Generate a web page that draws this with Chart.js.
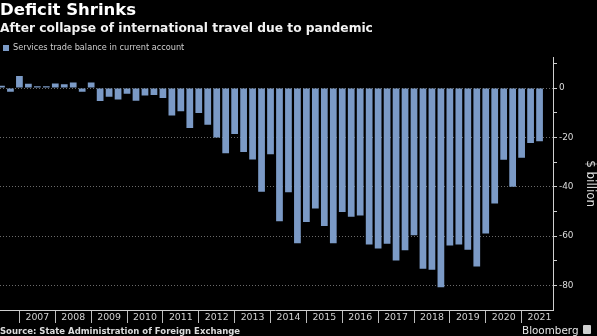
<!DOCTYPE html>
<html>
<head>
<meta charset="utf-8">
<script src="https://cdn.jsdelivr.net/npm/chart.js@4"></script>
<style>
  html, body { margin: 0; padding: 0; background: #000; }
  body { width: 597px; height: 336px; position: relative; overflow: hidden; font-family: "DejaVu Sans", sans-serif; }
  #wrap { position: absolute; left: -3px; top: 0; width: 600px; height: 336px; }
  .t { position: absolute; white-space: nowrap; }
  #title { left: 0; top: 2px; font-size: 16.5px; line-height: 16.5px; font-weight: bold; color: #ffffff; }
  #subtitle { left: 0; top: 22px; font-size: 12.25px; line-height: 12.25px; font-weight: bold; color: #f2f2f2; }
  #source { left: 0; top: 327px; font-size: 8.5px; line-height: 8.5px; font-weight: bold; color: #dcdcdc; }
  #brand { left: 522px; top: 325px; font-size: 10.4px; line-height: 10.4px; color: #e6e6e6; }
  #logo { position: absolute; left: 583px; top: 325px; width: 8px; height: 9px; background: #cfcfcf; border-radius: 1px; }
</style>
</head>
<body>
<div id="wrap"><canvas id="c"></canvas></div>
<div class="t" id="title">Deficit Shrinks</div>
<div class="t" id="subtitle">After collapse of international travel due to pandemic</div>
<div class="t" id="source">Source: State Administration of Foreign Exchange</div>
<div class="t" id="brand">Bloomberg</div>
<div id="logo"></div>
<script>
// Quarterly categories (last slot is an empty trailing quarter on the axis)
const quarters = [
  "2006 Q2","2006 Q3","2006 Q4",
  "2007 Q1","2007 Q2","2007 Q3","2007 Q4",
  "2008 Q1","2008 Q2","2008 Q3","2008 Q4",
  "2009 Q1","2009 Q2","2009 Q3","2009 Q4",
  "2010 Q1","2010 Q2","2010 Q3","2010 Q4",
  "2011 Q1","2011 Q2","2011 Q3","2011 Q4",
  "2012 Q1","2012 Q2","2012 Q3","2012 Q4",
  "2013 Q1","2013 Q2","2013 Q3","2013 Q4",
  "2014 Q1","2014 Q2","2014 Q3","2014 Q4",
  "2015 Q1","2015 Q2","2015 Q3","2015 Q4",
  "2016 Q1","2016 Q2","2016 Q3","2016 Q4",
  "2017 Q1","2017 Q2","2017 Q3","2017 Q4",
  "2018 Q1","2018 Q2","2018 Q3","2018 Q4",
  "2019 Q1","2019 Q2","2019 Q3","2019 Q4",
  "2020 Q1","2020 Q2","2020 Q3","2020 Q4",
  "2021 Q1","2021 Q2","2021 Q3"
];

// Year tick labels shown on the x axis
const yearLabels = ["2007","2008","2009","2010","2011","2012","2013","2014","2015","2016","2017","2018","2019","2020","2021"];

// Services trade balance in current account, $ billion
const servicesBalance = [
  1.0, -1.5, 4.9,
  1.8, 0.8, 0.8, 1.9,
  1.6, 2.3, -1.5, 2.3,
  -5.2, -3.5, -4.6, -2.3,
  -5.1, -3.0, -2.8, -4.0,
  -11.1, -9.4, -16.2, -10.1,
  -14.9, -20.0, -26.4, -18.6,
  -25.9, -29.0, -42.0, -26.8,
  -54.0, -42.2, -62.9, -54.3,
  -48.8, -55.9, -62.9, -50.2,
  -52.2, -51.7, -63.4, -65.1,
  -63.1, -69.9, -65.8, -59.7,
  -73.3, -73.7, -80.8, -63.8,
  -63.4, -65.6, -72.4, -59.0,
  -46.8, -29.1, -40.0, -28.2,
  -22.3, -21.6
];

const seriesName = "Services trade balance in current account";
const yTickValues = [10, 0, -10, -20, -30, -40, -50, -60, -70, -80];
const yLabelledValues = [0, -20, -40, -60, -80];

const barColor = "#7b9ac6";

Chart.defaults.font.family = "'DejaVu Sans', sans-serif";

new Chart(document.getElementById("c"), {
  type: "bar",
  data: {
    labels: quarters,
    datasets: [{
      label: seriesName,
      data: servicesBalance,
      backgroundColor: barColor,
      borderWidth: 0,
      barPercentage: 0.75,
      categoryPercentage: 1.0
    }]
  },
  options: {
    responsive: true,
    maintainAspectRatio: false,
    animation: false,
    layout: { padding: { top: 38, left: 0, right: 0, bottom: 0 } },
    plugins: {
      legend: {
        display: true,
        position: "top",
        align: "start",
        maxHeight: 19.3,
        labels: {
          boxWidth: 6,
          boxHeight: 6,
          padding: 6,
          color: "#cfcfcf",
          font: { size: 8.2 }
        }
      },
      tooltip: { enabled: false }
    },
    scales: {
      x: {
        type: "category",
        offset: true,
        grid: {
          offset: false,
          drawOnChartArea: false,
          drawTicks: true,
          tickLength: 13,
          color: "rgba(0,0,0,0)",
          tickColor: (ctx) => {
            const q = quarters[ctx.index];
            return q && q.endsWith("Q4") ? "#bdbdbd" : "rgba(0,0,0,0)";
          }
        },
        border: { display: true, color: "#cfcfcf", width: 1 },
        ticks: {
          autoSkip: false,
          maxRotation: 0,
          minRotation: 0,
          padding: -10,
          color: "#d2d2d2",
          font: { size: 9.4, lineHeight: 1 },
          callback: function (v, i) {
            const q = quarters[i];
            if (!q || !q.endsWith("Q2")) return "";
            const y = q.slice(0, 4);
            return yearLabels.includes(y) ? y : "";
          }
        },
        afterFit: (s) => { s.height = 26; }
      },
      y: {
        position: "right",
        min: -90,
        max: 12.5,
        afterBuildTicks: (s) => {
          s.ticks = yTickValues.map((v) => ({ value: v }));
        },
        ticks: {
          padding: 2,
          color: "#dddddd",
          font: { size: 8.9 },
          callback: (v) => (yLabelledValues.includes(v) ? String(v) : "")
        },
        grid: {
          color: (ctx) => (ctx.tick && yLabelledValues.includes(ctx.tick.value)) ? "#6a6a6a" : "rgba(0,0,0,0)",
          tickColor: "#cfcfcf",
          tickLength: 4,
          lineWidth: 1
        },
        border: { display: true, color: "#cfcfcf", width: 1, dash: [1, 2] },
        title: {
          display: true,
          text: "$ billion",
          color: "#dddddd",
          font: { size: 11.9, lineHeight: 1.2 },
          padding: 0
        },
        afterFit: (s) => { s.width = 44; }
      }
    }
  }
});
</script>
</body>
</html>
